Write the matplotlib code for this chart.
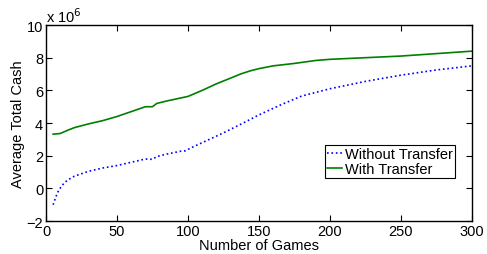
import matplotlib
matplotlib.use('Agg')
import matplotlib.pyplot as plt

plt.rcParams['font.family'] = ['Liberation Sans', 'DejaVu Sans']

# values (units of 1e6)
games_no = [5, 7, 9, 12, 15, 20, 30, 40, 50, 60, 70, 75, 78, 85, 95, 98,
            105, 110, 125, 140, 150, 165, 180, 200, 225, 250, 275, 300]
cash_no = [-1.0, -0.5, -0.1, 0.25, 0.5, 0.75, 1.05, 1.25, 1.4, 1.6, 1.8, 1.78, 1.95, 2.1, 2.28, 2.3,
           2.6, 2.8, 3.4, 4.05, 4.5, 5.1, 5.65, 6.1, 6.55, 6.93, 7.25, 7.5]

games_tr = [5, 10, 15, 20, 30, 40, 50, 60, 70, 75, 78, 85, 100, 110, 120, 130, 137, 144,
            150, 160, 175, 190, 200, 225, 250, 275, 300]
cash_tr = [3.32, 3.36, 3.55, 3.72, 3.95, 4.15, 4.4, 4.7, 5.0, 5.0, 5.2, 5.35, 5.63, 6.0, 6.4, 6.75, 7.0, 7.2,
           7.33, 7.5, 7.65, 7.83, 7.9, 8.0, 8.1, 8.25, 8.4]

xticks = [0, 50, 100, 150, 200, 250, 300]
yticks = [-2, 0, 2, 4, 6, 8, 10]

fig = plt.figure(figsize=(4.87, 2.55), dpi=100)
ax = fig.add_axes([0.0945, 0.129, 0.8745, 0.769])

ax.plot(games_no, cash_no, ':', color='#0000ff', lw=1.2, label='Without Transfer')
ax.plot(games_tr, cash_tr, '-', color='#007f00', lw=1.2, label='With Transfer')

ax.set_xlim(0, 300)
ax.set_ylim(-2, 10)
ax.set_xticks(xticks)
ax.set_yticks(yticks)
ax.tick_params(direction='in', top=True, right=True, labelsize=10.5, length=4, pad=2)
for s in ax.spines.values():
    s.set_linewidth(1.0)

ax.set_xlabel('Number of Games', fontsize=10.5, labelpad=0)
ax.set_ylabel('Average Total Cash', fontsize=10.5, labelpad=1)
ax.text(0.0, 1.0, 'x 10$^6$', transform=ax.transAxes, fontsize=10.5,
        ha='left', va='bottom')

leg = ax.legend(loc='lower left', bbox_to_anchor=(0.655, 0.219), borderaxespad=0,
                fancybox=False, edgecolor='black', framealpha=1, fontsize=10.5,
                handlelength=1.0, handletextpad=0.2, borderpad=0.15, labelspacing=0.05)
leg.get_frame().set_linewidth(0.8)

fig.savefig('out.png', dpi=100)
